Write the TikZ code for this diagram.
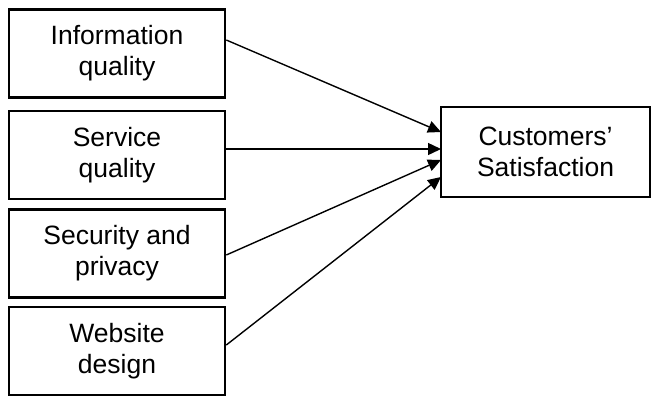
\documentclass[tikz,border=0pt]{standalone}
\usepackage{fontspec}
\setmainfont{Liberation Sans}
\usetikzlibrary{arrows.meta}
\begin{document}
\begin{tikzpicture}[x=1pt,y=-1pt,
  box/.style={draw,line width=2.6pt,minimum width=216pt,minimum height=88pt,align=center,inner sep=0pt,
    font=\fontsize{26.5}{31}\selectfont},
  arr/.style={line width=1.4pt,-{Triangle[length=13pt,width=12pt]}}]
\useasboundingbox (0,0) rectangle (653,397);
\node[box] (a) at (117,53.5) {Information\\quality};
\node[box] (b) at (117,155) {Service\\quality};
\node[box] (c) at (117,253.5) {Security and\\privacy};
\node[box] (d) at (117,351) {Website\\design};
\node[box,minimum width=209pt,minimum height=90pt] (e) at (545.5,152) {Customers’\\Satisfaction};
\coordinate (e1) at (441,132);
\coordinate (e2) at (441,149);
\coordinate (e3) at (441,160);
\coordinate (e4) at (441,177);
\draw[arr] (a.east |- 0,40) -- (e1);
\draw[arr] (b.east |- 0,149) -- (e2);
\draw[arr] (c.east |- 0,255) -- (e3);
\draw[arr] (d.east |- 0,345) -- (e4);
\end{tikzpicture}
\end{document}
